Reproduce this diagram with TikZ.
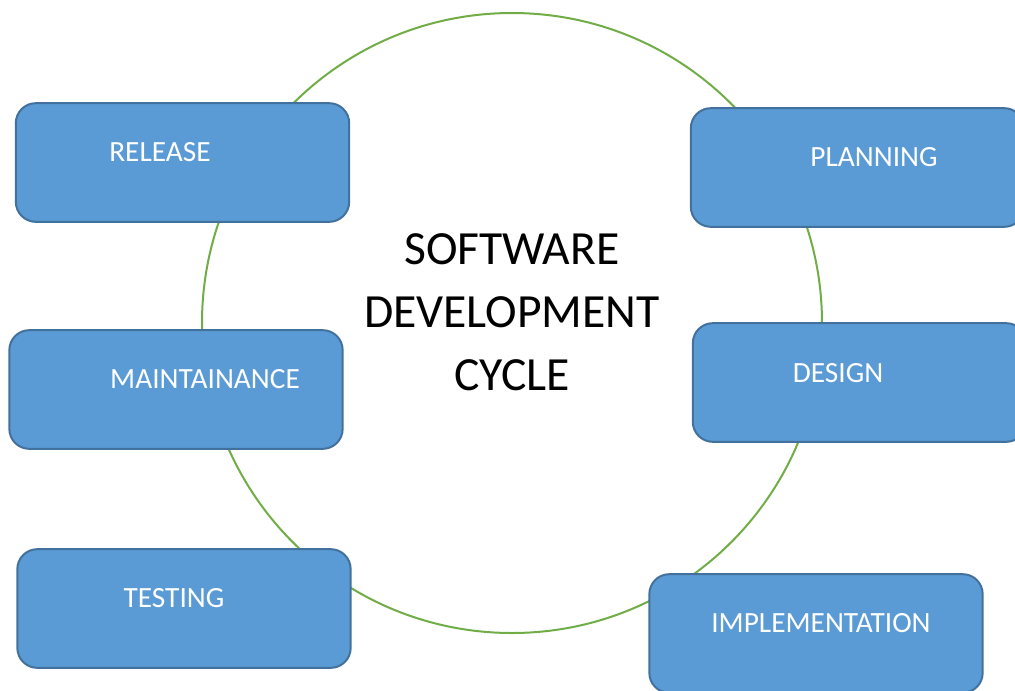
\documentclass[tikz,border=0pt]{standalone}
\usepackage{fontspec}
\setmainfont{Carlito}
\usetikzlibrary{positioning}

\definecolor{boxfill}{HTML}{5B9BD5}
\definecolor{boxline}{HTML}{41719C}
\definecolor{ringgreen}{HTML}{70AD47}

\tikzset{
  phase/.style={draw=boxline, fill=boxfill, line width=1.5pt, rounded corners=15pt,
    minimum width=250pt, minimum height=89pt, inner sep=0pt},
  phasetext/.style={text=white, font=\fontsize{22}{26}\selectfont, text depth=0pt, inner sep=0pt}
}

\begin{document}
\begin{tikzpicture}[x=0.75pt, y=-0.75pt, line join=round]
\useasboundingbox (0,0) rectangle (1015,690);
\clip (0,0) rectangle (1015,690);
\coordinate (c) at (512,323);
\draw[ringgreen, line width=1.5pt] (c) circle (232.5pt);
\node[font=\fontsize{35.7}{47.2}\selectfont, align=center, inner sep=0pt] (title) at (512,312) {SOFTWARE\\DEVELOPMENT\\CYCLE};

\node[phase] (release)  at (182.5,162.5) {};
\node[phase] (planning) at (857.5,167.5) {};
\node[phase] (maint)    at (176,389.5) {};
\node[phase] (design)   at (859.5,382.5) {};
\node[phase] (testing)  at (184,608.5) {};
\node[phase] (impl)     at (816,633.5) {};

\node[phasetext] (release-t)  at (160,152) {RELEASE};
\node[phasetext] (planning-t) at (874,157) {PLANNING};
\node[phasetext] (maint-t)    at (205,379) {MAINTAINANCE};
\node[phasetext] (design-t)   at (838,373) {DESIGN};
\node[phasetext] (testing-t)  at (174,598) {TESTING};
\node[phasetext] (impl-t)     at (821,623) {IMPLEMENTATION};
\end{tikzpicture}
\end{document}
